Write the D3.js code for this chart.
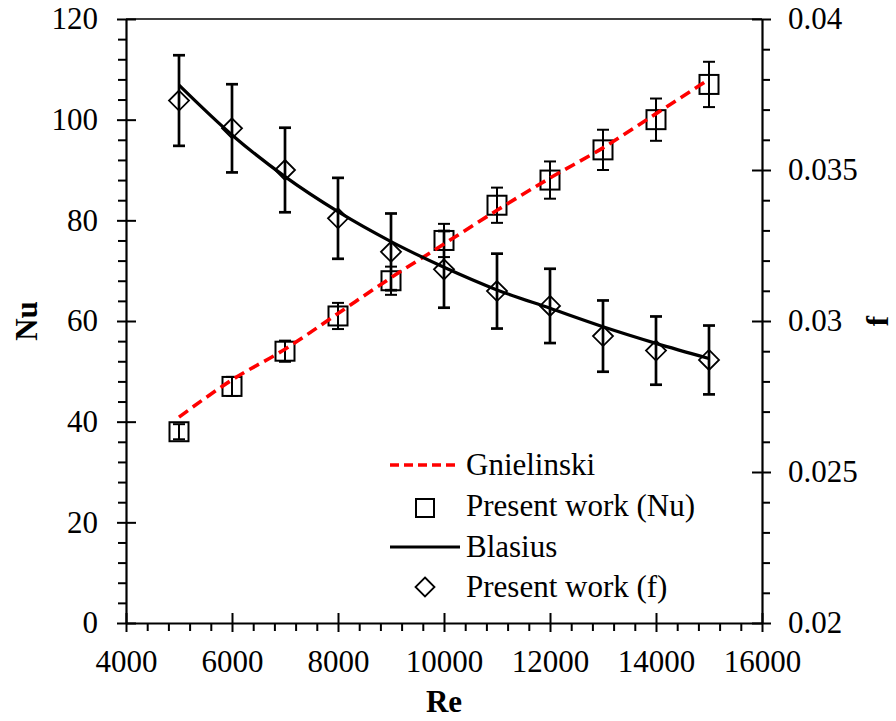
<!DOCTYPE html>
<html>
<head>
<meta charset="utf-8">
<script src="https://cdn.jsdelivr.net/npm/d3@7"></script>
<style>
  body { margin: 0; background: #fff; }
  svg text { font-family: "Times New Roman", "Liberation Serif", "DejaVu Serif", serif; }
</style>
</head>
<body>
<svg id="chart" width="896" height="721"></svg>
<script>
// values
const re = [5000, 6000, 7000, 8000, 9000, 10000, 11000, 12000, 13000, 14000, 15000];
const nuExp = [38, 47, 54, 61, 68, 76, 83, 88, 94, 100, 107];
const nuErr = [1.5, 1.9, 2.1, 2.6, 2.8, 3.3, 3.5, 3.7, 4.0, 4.2, 4.5];
const fExp = [0.0373, 0.03638, 0.0350, 0.0334, 0.03229, 0.03171, 0.03099, 0.0305, 0.0295, 0.02902, 0.02871];
const fErr = [0.0015, 0.00146, 0.0014, 0.00134, 0.00127, 0.00127, 0.00124, 0.00123, 0.00118, 0.00113, 0.00114];
const gnielinski = [40.9, 48.3, 54.4, 61.5, 68.6, 75.3, 82.0, 88.4, 94.4, 101.2, 108.0];
const blasius = [0.03781, 0.03616, 0.03478, 0.03362, 0.03263, 0.03178, 0.03103, 0.03042, 0.02981, 0.02926, 0.02876];

const xTicks = [4000, 6000, 8000, 10000, 12000, 14000, 16000];
const nuTicks = [0, 20, 40, 60, 80, 100, 120];
const fTicks = [0.02, 0.025, 0.03, 0.035, 0.04];
const legendItems = ["Gnielinski", "Present work (Nu)", "Blasius", "Present work (f)"];

const plotL = 126, plotR = 762, plotT = 19, plotB = 623;
const serif = '"Times New Roman", "Liberation Serif", "DejaVu Serif", serif';
const svg = d3.select("#chart");

const x = d3.scaleLinear().domain([4000, 16000]).range([plotL, plotR]);
const yNu = d3.scaleLinear().domain([0, 120]).range([plotB, plotT]);
const yF = d3.scaleLinear().domain([0.02, 0.04]).range([plotB, plotT]);

const fontSize = 31;

// top border
svg.append("line")
    .attr("x1", plotL).attr("x2", plotR).attr("y1", plotT).attr("y2", plotT)
    .attr("stroke", "#000").attr("stroke-width", 1.3);

function styleAxis(g) {
  g.attr("font-family", serif);
  g.selectAll("path").attr("stroke", "#000").attr("stroke-width", 2.2);
  g.selectAll("line").attr("stroke", "#000").attr("stroke-width", 2);
  g.selectAll("text").attr("font-size", fontSize).attr("fill", "#000")
    .style("font-family", serif);
}

// bottom axis
const minorX = d3.range(4000, 16001, 400).filter(v => v % 2000 !== 0);
svg.append("g").attr("transform", "translate(0," + plotB + ")")
  .call(d3.axisBottom(x).tickValues(minorX).tickSize(8).tickFormat("").tickSizeOuter(0))
  .call(styleAxis).call(g => g.select("path").remove());
svg.append("g").attr("transform", "translate(0," + plotB + ")")
  .call(d3.axisBottom(x).tickValues(xTicks).tickSize(-10).tickFormat("").tickSizeOuter(0))
  .call(styleAxis).call(g => g.select("path").remove());
svg.append("g").attr("transform", "translate(0," + plotB + ")")
  .call(d3.axisBottom(x).tickValues(xTicks).tickSize(9).tickPadding(18).tickSizeOuter(0).tickFormat(d3.format("d")))
  .call(styleAxis);

// left axis
const minorNu = d3.range(0, 121, 4).filter(v => v % 20 !== 0);
svg.append("g").attr("transform", "translate(" + plotL + ",0)")
  .call(d3.axisLeft(yNu).tickValues(minorNu).tickSize(8).tickFormat("").tickSizeOuter(0))
  .call(styleAxis).call(g => g.select("path").remove());
svg.append("g").attr("transform", "translate(" + plotL + ",0)")
  .call(d3.axisLeft(yNu).tickValues(nuTicks).tickSize(-10).tickFormat("").tickSizeOuter(0))
  .call(styleAxis).call(g => g.select("path").remove());
svg.append("g").attr("transform", "translate(" + plotL + ",0)")
  .call(d3.axisLeft(yNu).tickValues(nuTicks).tickSize(9).tickPadding(19).tickSizeOuter(0))
  .call(styleAxis);

// right axis
const minorF = d3.range(20, 40.5, 1).filter(v => v % 5 !== 0).map(v => v / 1000);
svg.append("g").attr("transform", "translate(" + plotR + ",0)")
  .call(d3.axisRight(yF).tickValues(minorF).tickSize(8).tickFormat("").tickSizeOuter(0))
  .call(styleAxis).call(g => g.select("path").remove());
svg.append("g").attr("transform", "translate(" + plotR + ",0)")
  .call(d3.axisRight(yF).tickValues(fTicks).tickSize(-10).tickFormat("").tickSizeOuter(0))
  .call(styleAxis).call(g => g.select("path").remove());
svg.append("g").attr("transform", "translate(" + plotR + ",0)")
  .call(d3.axisRight(yF).tickValues(fTicks).tickSize(9).tickPadding(17).tickSizeOuter(0)
        .tickFormat(d => String(+d.toFixed(3))))
  .call(styleAxis);

// axis titles
svg.append("text").attr("x", 444).attr("y", 712)
  .attr("text-anchor", "middle").attr("font-family", serif).attr("font-size", fontSize)
  .attr("font-weight", "bold").text("Re");
svg.append("text").attr("transform", "translate(37," + 321 + ") rotate(-90)")
  .attr("text-anchor", "middle").attr("font-family", serif).attr("font-size", fontSize)
  .attr("font-weight", "bold").text("Nu");
svg.append("text").attr("transform", "translate(888," + 321 + ") rotate(-90)")
  .attr("text-anchor", "middle").attr("font-family", serif).attr("font-size", fontSize)
  .attr("font-weight", "bold").text("f");

const capW = 6;
const plot = svg.append("g");

// Nu error bars + squares
const nuData = re.map((r, i) => ({ r: r, v: nuExp[i], e: nuErr[i] }));
const nuBars = plot.append("g").attr("stroke", "#000").attr("stroke-width", 2);
nuData.forEach(d => {
  const cx = x(d.r), y1 = yNu(d.v + d.e), y2 = yNu(d.v - d.e);
  nuBars.append("line").attr("x1", cx).attr("x2", cx).attr("y1", y1).attr("y2", y2);
  nuBars.append("line").attr("x1", cx - capW).attr("x2", cx + capW).attr("y1", y1).attr("y2", y1);
  nuBars.append("line").attr("x1", cx - capW).attr("x2", cx + capW).attr("y1", y2).attr("y2", y2);
});
plot.append("g").selectAll("rect").data(nuData).enter().append("rect")
  .attr("x", d => x(d.r) - 9.5).attr("y", d => yNu(d.v) - 9.5)
  .attr("width", 19).attr("height", 19)
  .attr("fill", "none").attr("stroke", "#000").attr("stroke-width", 2);

// f error bars + diamonds
const fData = re.map((r, i) => ({ r: r, v: fExp[i], e: fErr[i] }));
const fBars = plot.append("g").attr("stroke", "#000").attr("stroke-width", 2.7);
fData.forEach(d => {
  const cx = x(d.r), y1 = yF(d.v + d.e), y2 = yF(d.v - d.e);
  fBars.append("line").attr("x1", cx).attr("x2", cx).attr("y1", y1).attr("y2", y2);
  fBars.append("line").attr("x1", cx - capW).attr("x2", cx + capW).attr("y1", y1).attr("y2", y1);
  fBars.append("line").attr("x1", cx - capW).attr("x2", cx + capW).attr("y1", y2).attr("y2", y2);
});
const diamond = "M0,-10L10,0L0,10L-10,0Z";
plot.append("g").selectAll("path").data(fData).enter().append("path")
  .attr("d", diamond)
  .attr("transform", d => "translate(" + x(d.r) + "," + yF(d.v) + ")")
  .attr("fill", "none").attr("stroke", "#000").attr("stroke-width", 1.8);

// correlation lines
const gLine = d3.line().x((d, i) => x(re[i])).y(d => yNu(d)).curve(d3.curveMonotoneX);
plot.append("path").attr("d", gLine(gnielinski))
  .attr("fill", "none").attr("stroke", "#ff0000").attr("stroke-width", 3.6)
  .attr("stroke-dasharray", "11,6");

const bLine = d3.line().x((d, i) => x(re[i])).y(d => yF(d)).curve(d3.curveMonotoneX);
plot.append("path").attr("d", bLine(blasius))
  .attr("fill", "none").attr("stroke", "#000").attr("stroke-width", 3.2);

// legend
const legend = svg.append("g").attr("font-family", serif);
const rowY = [465, 506, 547, 587];
legend.append("line").attr("x1", 390).attr("x2", 460).attr("y1", rowY[0]).attr("y2", rowY[0])
  .attr("stroke", "#ff0000").attr("stroke-width", 3.6).attr("stroke-dasharray", "9,5");
legend.append("rect").attr("x", 425 - 9).attr("y", rowY[1] + 2 - 9).attr("width", 18).attr("height", 18)
  .attr("fill", "none").attr("stroke", "#000").attr("stroke-width", 2);
legend.append("line").attr("x1", 390).attr("x2", 460).attr("y1", rowY[2]).attr("y2", rowY[2])
  .attr("stroke", "#000").attr("stroke-width", 3.2);
legend.append("path").attr("d", "M0,-9.5L9.5,0L0,9.5L-9.5,0Z")
  .attr("transform", "translate(425," + rowY[3] + ")")
  .attr("fill", "none").attr("stroke", "#000").attr("stroke-width", 1.8);
legend.selectAll("text").data(legendItems).enter().append("text")
  .attr("x", 466).attr("y", (d, i) => rowY[i] + 10)
  .attr("font-family", serif).attr("font-size", fontSize).attr("fill", "#000").text(d => d);
</script>
</body>
</html>
